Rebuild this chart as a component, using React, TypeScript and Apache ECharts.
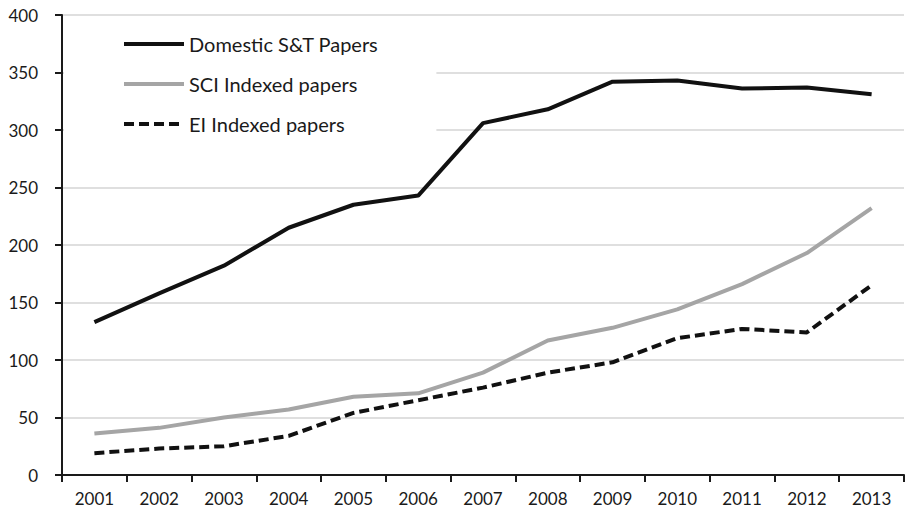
import React, { useEffect, useRef } from "react";
import * as echarts from "echarts";

const years = ["2001","2002","2003","2004","2005","2006","2007","2008","2009","2010","2011","2012","2013"];
const domestic = [133, 158, 182, 215, 235, 243, 306, 318, 342, 343, 336, 337, 331];
const sci = [36, 41, 50, 57, 68, 71, 89, 117, 128, 144, 166, 193, 232];
const ei = [19, 23, 25, 34, 54, 65, 76, 89, 98, 119, 127, 124, 165];
const seriesNames = ["Domestic S&T Papers", "SCI Indexed papers", "EI Indexed papers"];

const FONT = "Lato, 'Open Sans', sans-serif";

export default function App() {
  const ref = useRef<HTMLDivElement>(null);
  useEffect(() => {
    if (!ref.current) return;
    const chart = echarts.init(ref.current, null, { renderer: "svg" });
    chart.setOption({
      animation: false,
      backgroundColor: "#ffffff",
      textStyle: { fontFamily: FONT },
      grid: { left: 62, right: 13, top: 15, bottom: 34, containLabel: false },
      legend: {
        orient: "vertical",
        left: 64,
        top: 25,
        padding: [9, 58, 30, 58],
        backgroundColor: "#ffffff",
        itemWidth: 60,
        itemHeight: 20,
        itemGap: 20,
        itemStyle: { opacity: 0 },
        lineStyle: { width: 4 },
        textStyle: { fontFamily: FONT, fontSize: 20, color: "#1a1a1a" },
        data: seriesNames,
      },
      xAxis: {
        type: "category",
        data: years,
        boundaryGap: true,
        axisLine: { lineStyle: { color: "#1a1a1a", width: 2 } },
        axisTick: { show: true, inside: false, length: 7, lineStyle: { color: "#1a1a1a", width: 2 } },
        axisLabel: { color: "#1a1a1a", fontSize: 17, fontFamily: FONT, margin: 15 },
        splitLine: { show: false },
      },
      yAxis: {
        type: "value",
        min: 0,
        max: 400,
        interval: 50,
        axisLine: { show: true, lineStyle: { color: "#1a1a1a", width: 2 } },
        axisTick: { show: true, length: 7, lineStyle: { color: "#1a1a1a", width: 2 } },
        axisLabel: { color: "#1a1a1a", fontSize: 17, fontFamily: FONT, margin: 24 },
        splitLine: { show: true, lineStyle: { color: "#d4d4d4", width: 1.5 } },
      },
      series: [
        {
          name: seriesNames[0],
          type: "line",
          data: domestic,
          symbol: "none",
          lineStyle: { color: "#111111", width: 4 },
          itemStyle: { color: "#111111" },
        },
        {
          name: seriesNames[1],
          type: "line",
          data: sci,
          symbol: "none",
          lineStyle: { color: "#a5a5a5", width: 4 },
          itemStyle: { color: "#a5a5a5" },
        },
        {
          name: seriesNames[2],
          type: "line",
          data: ei,
          symbol: "none",
          lineStyle: { color: "#111111", width: 4, type: [10, 5] },
          itemStyle: { color: "#111111" },
        },
      ],
    });
    return () => chart.dispose();
  }, []);
  return <div ref={ref} style={{ width: 917, height: 509, position: "absolute", left: 0, top: 0 }} />;
}
